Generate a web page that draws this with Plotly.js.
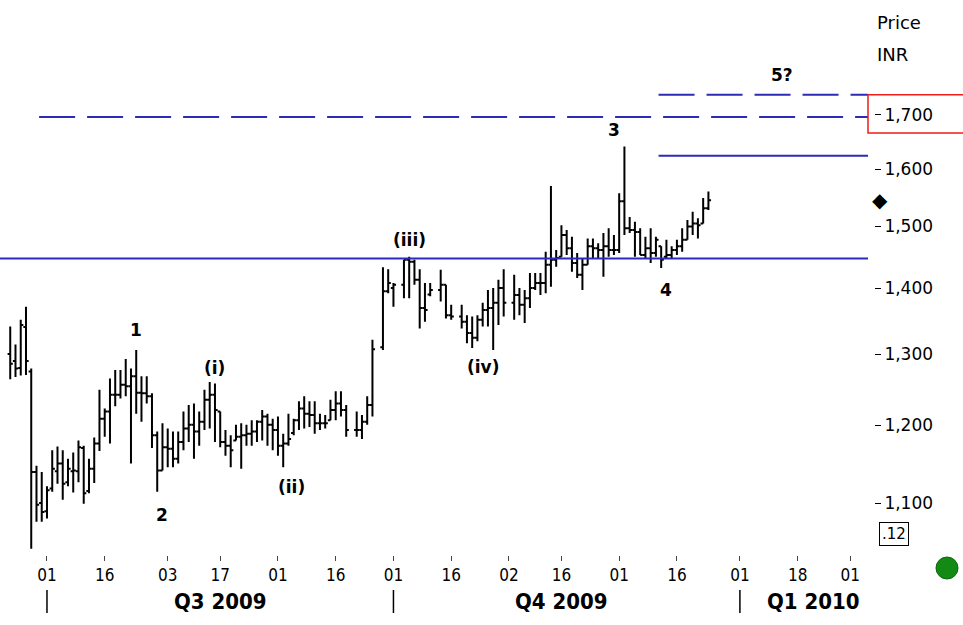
<!DOCTYPE html>
<html><head><meta charset="utf-8">
<script src="https://cdn.plot.ly/plotly-3.0.1.min.js"></script>
<style>html,body{margin:0;padding:0;background:#fff;}#chart{width:963px;height:625px;}</style>
</head><body><div id="chart"></div>
<script>
// ---- data (daily OHLC, INR) ----
const dates = [
'2009-06-22','2009-06-23','2009-06-24','2009-06-25','2009-06-26','2009-06-29','2009-06-30',
'2009-07-01','2009-07-02','2009-07-03','2009-07-06','2009-07-07','2009-07-08','2009-07-09','2009-07-10',
'2009-07-13','2009-07-14','2009-07-15','2009-07-16','2009-07-17','2009-07-20','2009-07-21','2009-07-22','2009-07-23','2009-07-24',
'2009-07-27','2009-07-28','2009-07-29','2009-07-30','2009-07-31',
'2009-08-03','2009-08-04','2009-08-05','2009-08-06','2009-08-07','2009-08-10','2009-08-11','2009-08-12','2009-08-13','2009-08-14',
'2009-08-17','2009-08-18','2009-08-19','2009-08-20','2009-08-21','2009-08-24','2009-08-25','2009-08-26','2009-08-27','2009-08-28','2009-08-31',
'2009-09-01','2009-09-02','2009-09-03','2009-09-04','2009-09-07','2009-09-08','2009-09-09','2009-09-10','2009-09-11',
'2009-09-14','2009-09-15','2009-09-16','2009-09-17','2009-09-18','2009-09-22','2009-09-23','2009-09-24','2009-09-25',
'2009-09-29','2009-09-30','2009-10-01','2009-10-05','2009-10-06','2009-10-07','2009-10-08','2009-10-09',
'2009-10-12','2009-10-14','2009-10-15','2009-10-16','2009-10-20','2009-10-21','2009-10-22','2009-10-23',
'2009-10-26','2009-10-27','2009-10-28','2009-10-29','2009-10-30','2009-11-03','2009-11-04','2009-11-05','2009-11-06',
'2009-11-09','2009-11-10','2009-11-11','2009-11-12','2009-11-13','2009-11-16','2009-11-17','2009-11-18','2009-11-19','2009-11-20',
'2009-11-23','2009-11-24','2009-11-25','2009-11-26','2009-11-27','2009-11-30','2009-12-01','2009-12-02','2009-12-03','2009-12-04',
'2009-12-07','2009-12-08','2009-12-09','2009-12-10','2009-12-11','2009-12-14','2009-12-15','2009-12-16','2009-12-17','2009-12-18',
'2009-12-21','2009-12-22','2009-12-23','2009-12-24'];
const openP = [
1300,1290,1280,1340,1275,1139,1100,
1090,1118,1140,1150,1126,1140,1140,1170,
1115,1143,1176,1209,1219,1242,1242,1256,1254,1268,
1245,1244,1240,1187,1141,
1171,1169,1156,1178,1196,1201,1192,1205,1235,1242,
1219,1178,1173,1180,1185,1187,1189,1192,1205,1212,1201,
1194,1173,1176,1190,1207,1223,1216,1214,1203,
1203,1207,1221,1230,1221,1194,1194,1205,1228,
1310,1395,1400,1405,1445,1442,1413,1369,
1390,1397,1405,1358,1356,1348,1331,1324,
1351,1366,1369,1377,1400,1377,1389,1374,1384,
1400,1408,1408,1437,1445,1450,1486,1464,1440,1421,
1437,1467,1464,1461,1467,1461,1461,1543,1497,1494,
1491,1453,1464,1456,1467,1450,1453,1461,1467,1478,
1500,1505,1505,1531];
const highP = [
1341,1314,1351,1371,1279,1147,1139,
1121,1167,1172,1167,1156,1164,1180,1173,
1156,1184,1249,1223,1265,1277,1277,1293,1279,1306,
1268,1268,1244,1192,1203,
1196,1192,1192,1219,1228,1230,1219,1249,1260,1258,
1219,1194,1187,1201,1203,1201,1207,1207,1221,1216,1209,
1212,1189,1216,1209,1233,1240,1233,1233,1216,
1214,1235,1247,1247,1228,1219,1214,1240,1321,
1433,1430,1408,1445,1450,1445,1430,1408,
1408,1429,1405,1374,1374,1358,1356,1358,
1377,1397,1400,1413,1430,1421,1400,1397,1424,
1424,1424,1458,1570,1461,1502,1494,1483,1456,1448,
1480,1480,1472,1489,1497,1486,1557,1641,1516,1508,
1497,1483,1497,1483,1467,1478,1467,1478,1497,1511,
1525,1514,1549,1560];
const lowP = [
1264,1267,1269,1270,1045,1077,1077,
1081,1114,1124,1104,1121,1113,1126,1099,
1112,1125,1166,1185,1176,1226,1237,1240,1150,1216,
1205,1230,1170,1114,1141,
1145,1145,1150,1167,1178,1156,1173,1194,1196,1178,
1171,1160,1145,1180,1143,1173,1173,1178,1180,1173,1167,
1160,1145,1173,1187,1194,1196,1198,1189,1194,
1196,1207,1207,1212,1185,1185,1182,1201,1212,
1306,1392,1371,1384,1384,1405,1338,1348,
1387,1379,1353,1351,1338,1316,1309,1319,
1341,1341,1306,1343,1356,1351,1358,1346,1369,
1397,1389,1392,1402,1434,1450,1453,1426,1416,1397,
1437,1448,1448,1418,1450,1453,1456,1486,1489,1450,
1453,1448,1440,1450,1432,1448,1448,1453,1458,1478,
1486,1480,1505,1528];
const closeP = [
1286,1279,1343,1290,1139,1098,1089,
1116,1143,1150,1124,1143,1141,1171,1112,
1143,1176,1209,1219,1242,1242,1256,1254,1268,1245,
1244,1240,1187,1141,1171,
1169,1156,1178,1196,1201,1192,1205,1235,1242,1221,
1178,1173,1167,1185,1187,1189,1192,1205,1212,1201,1194,
1173,1176,1182,1207,1223,1216,1214,1203,1203,
1203,1221,1230,1221,1194,1194,1205,1228,1307,
1395,1408,1405,1445,1442,1413,1369,1366,
1397,1405,1358,1356,1348,1331,1324,1351,
1366,1369,1377,1400,1377,1389,1374,1384,1400,
1408,1408,1437,1445,1448,1486,1464,1440,1421,1437,
1467,1464,1461,1467,1461,1461,1543,1497,1494,1491,
1453,1464,1456,1478,1445,1453,1461,1467,1478,1500,
1505,1502,1531,1545];

// axis ticks
const xTickDates = ['2009-07-01','2009-07-16','2009-08-03','2009-08-17','2009-09-01','2009-09-16','2009-10-01','2009-10-16','2009-11-02','2009-11-16','2009-12-01','2009-12-16','2010-01-01','2010-01-18','2010-02-01'];
const xTickText = ['01','16','03','17','01','16','01','16','02','16','01','16','01','18','01'];
const yTickVals = [1100,1200,1300,1400,1500,1600,1700];
const yTickText = ['1,100','1,200','1,300','1,400','1,500','1,600','1,700'];

// quarter band
const quarterLabels = ['Q3 2009','Q4 2009','Q1 2010'];
const quarterStarts = ['2009-07-01','2009-10-01','2010-01-01'];
const quarterLabelAt = ['2009-08-17','2009-11-16','2010-01-21'];

// Elliott wave labels
const waveLabels = ['1','2','(i)','(ii)','(iii)','(iv)','3','4','5?'];
const waveDates = ['2009-07-24 12:00','2009-07-31 12:00','2009-08-14 12:00','2009-09-04 00:00','2009-10-06 12:00','2009-10-26 12:00','2009-11-30 12:00','2009-12-14 12:00','2010-01-13 12:00'];
const wavePrices = [1336,1085,1280,1120,1478,1282,1672,1397,1778];

// horizontal levels
const fullLevels = [1447, 1696];
const fullLevelDash = ['solid', 'dash'];
const fullLevelStart = ['2009-06-01 00:00', '2009-06-30 00:00'];
const shortLevels = [1624, 1739];
const shortLevelDash = ['solid', 'dash'];
const shortLevelStart = '2009-12-11 00:00';
const highlightBox = [1666, 1739];

// ---- layout helpers (pixel -> paper) ----
const PW = 874, PH = 555, DATA_RIGHT = 868;
const px = x => x / PW;
const py = y => (PH - y) / PH;
const BLUE = '#2b2bb6';

const noon = d => d + ' 12:00';

const trace = {
  type: 'ohlc',
  x: dates.map(noon),
  open: openP, high: highP, low: lowP, close: closeP,
  increasing: {line: {color: '#000', width: 2}},
  decreasing: {line: {color: '#000', width: 2}},
  tickwidth: 0.5,
  hoverinfo: 'skip',
  showlegend: false
};

const shapes = [];
fullLevels.forEach((v, i) => shapes.push({
  type: 'line', xref: 'x', yref: 'y', x0: fullLevelStart[i], x1: '2010-03-01', y0: v, y1: v,
  line: {color: BLUE, width: 2, dash: fullLevelDash[i] === 'dash' ? '36px,12px' : 'solid'}
}));
shortLevels.forEach((v, i) => shapes.push({
  type: 'line', xref: 'x', yref: 'y', x0: shortLevelStart, x1: '2010-03-01', y0: v, y1: v,
  line: {color: BLUE, width: 2, dash: shortLevelDash[i] === 'dash' ? '36px,12px' : 'solid'}
}));
shapes.push({type: 'rect', xref: 'paper', yref: 'y', x0: px(DATA_RIGHT), x1: 1.2,
  y0: highlightBox[0], y1: highlightBox[1], line: {color: '#ee1c1c', width: 1.5}, fillcolor: 'rgba(0,0,0,0)'});
quarterStarts.forEach(d => shapes.push({
  type: 'line', xref: 'x', yref: 'paper', x0: noon(d), x1: noon(d), y0: py(590), y1: py(613),
  line: {color: '#000', width: 1.5}
}));
shapes.push({type: 'circle', xref: 'paper', yref: 'paper', xsizemode: 'pixel', ysizemode: 'pixel',
  xanchor: px(947), yanchor: py(568), x0: -11, x1: 11, y0: -11, y1: 11,
  fillcolor: '#138a13', line: {color: '#0b6a0b', width: 1}});

const annotations = [];
waveLabels.forEach((t, i) => annotations.push({
  xref: 'x', yref: 'y', x: waveDates[i], y: Math.log10(wavePrices[i]), text: t, showarrow: false,
  xanchor: 'center', yanchor: 'middle',
  font: {family: 'DejaVu Sans', size: 17, color: '#000', weight: 'bold'}
}));
quarterLabels.forEach((t, i) => annotations.push({
  xref: 'x', yref: 'paper', x: noon(quarterLabelAt[i]), y: py(601), text: '<b>' + t + '</b>', showarrow: false,
  xanchor: 'center', yanchor: 'middle',
  font: {family: 'Liberation Sans Narrow, DejaVu Sans Condensed, Arial Narrow, sans-serif', size: 22, color: '#000'}
}));
annotations.push({xref: 'paper', yref: 'paper', x: px(875), y: py(22), text: 'Price', showarrow: false,
  xanchor: 'left', yanchor: 'middle', font: {family: 'DejaVu Sans', size: 18, color: '#000'}});
annotations.push({xref: 'paper', yref: 'paper', x: px(875), y: py(55), text: 'INR', showarrow: false,
  xanchor: 'left', yanchor: 'middle', font: {family: 'DejaVu Sans', size: 18, color: '#000'}});
annotations.push({xref: 'paper', yref: 'y', x: px(880), y: Math.log10(closeP[closeP.length - 1]), text: '\u25C6', showarrow: false,
  xanchor: 'center', yanchor: 'middle', font: {family: 'DejaVu Sans', size: 20, color: '#000'}});
annotations.push({xref: 'paper', yref: 'paper', x: px(894), y: py(534), text: '.12', showarrow: false,
  xanchor: 'center', yanchor: 'middle', bordercolor: '#000', borderwidth: 1, borderpad: 2, bgcolor: '#fff',
  font: {family: 'DejaVu Sans', size: 15, color: '#000'}});

const layout = {
  width: 963, height: 625,
  margin: {l: 0, r: 963 - PW, t: 0, b: 625 - PH, pad: 0},
  paper_bgcolor: '#fff', plot_bgcolor: '#fff',
  showlegend: false,
  xaxis: {
    type: 'date', domain: [0, DATA_RIGHT / PW],
    range: ['2009-06-18 13:12', '2010-02-04 21:36'],
    rangebreaks: [{bounds: ['sat', 'mon']}],
    rangeslider: {visible: false},
    tickmode: 'array', tickvals: xTickDates.map(noon), ticktext: xTickText,
    ticks: 'outside', ticklen: 5, tickwidth: 1, tickcolor: '#444',
    showgrid: false, zeroline: false, showline: false,
    tickfont: {family: 'Liberation Sans Narrow, DejaVu Sans Condensed, Arial Narrow, sans-serif', size: 17, color: '#000'}
  },
  yaxis: {
    type: 'log', side: 'right', anchor: 'free', position: 1,
    range: [Math.log10(1037.7), Math.log10(1934)],
    tickmode: 'array', tickvals: yTickVals, ticktext: yTickText,
    ticks: 'outside', ticklen: 6, tickwidth: 1, tickcolor: '#000',
    showgrid: false, zeroline: false, showline: false,
    tickfont: {family: 'DejaVu Sans', size: 17, color: '#000'}
  },
  shapes: shapes,
  annotations: annotations
};

Plotly.newPlot('chart', [trace], layout, {staticPlot: true, displayModeBar: false});
</script>
</body></html>
